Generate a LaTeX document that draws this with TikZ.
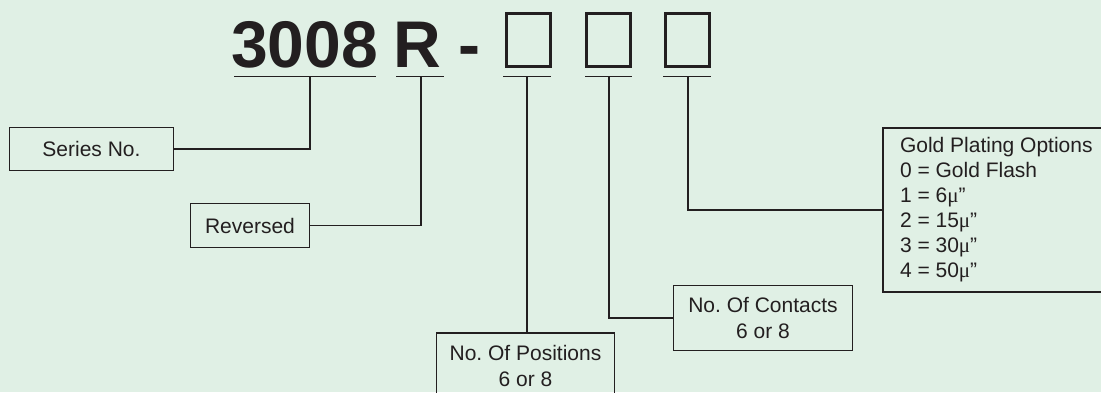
\documentclass[tikz,border=0pt]{standalone}
\usepackage{fontspec}
\setmainfont{Liberation Sans}
\newfontfamily\mufont{Liberation Serif}
\usepackage{tikz}
\usetikzlibrary{positioning}
\definecolor{BgColor}{RGB}{224,240,229}
\definecolor{InkColor}{RGB}{35,31,32}
\newcommand{\micro}{{\mufont μ}”}
\frenchspacing

\begin{document}
\begin{tikzpicture}[x=0.5pt,y=-0.5pt,line width=0.6pt,color=InkColor,
  every node/.style={align=center,font=\fontsize{10.5}{13}\selectfont,inner sep=0pt},
  lbl/.style={draw,line width=0.65pt},
  code/.style={font=\fontsize{33}{40}\selectfont\bfseries,anchor=base},
  slot/.style={draw,line width=1.5pt,minimum width=22pt,minimum height=26.5pt}]
\useasboundingbox[fill=BgColor] (0,0) rectangle (1101,392);
\clip (0,0) rectangle (1101,392);
% part number
\node[code] (tser) at (304.5,67) {3008};
\node[code] (trev) at (417.5,67) {R};
\node[code] (tdash) at (469,67) {-};
\foreach \x/\n in {528.5/s1,608/s2,687.5/s3} \node[slot] (\n) at (\x,40) {};
\foreach \a/\b in {234/376,396/444,503/551,585/632,663/711}
  \draw[line width=0.7pt] (\a,76.5) -- (\b,76.5);
\foreach \x/\n in {310/k1,421/k2,527/k3,609/k4,688/k5} \coordinate (\n) at (\x,76.5);
% labels
\node[lbl,minimum width=82pt,minimum height=21.5pt] (ser) at (91.5,149) {Series No.};
\node[lbl,minimum width=59.5pt,minimum height=22pt] (rev) at (250,225.5) {Reversed};
\node[lbl,minimum width=89pt,minimum height=33pt] (pos) at (525.5,366) {No. Of Positions\\6 or 8};
\node[lbl,minimum width=89.5pt,minimum height=32.5pt] (con) at (763,318) {No. Of Contacts\\6 or 8};
\node[lbl,align=flush left,text width=104pt,inner xsep=8.5pt,minimum height=82pt,
  font=\fontsize{10.5}{12.5}\selectfont] (gold) at (1004,210)
  {Gold Plating Options\\0 = Gold Flash\\1 = 6\micro\\2 = 15\micro\\3 = 30\micro\\4 = 50\micro};
\draw (ser.east) -| (k1);
\draw (rev.east) -| (k2);
\draw (k3) -- (k3 |- pos.north);
\draw (con.west) -| (k4);
\draw (gold.west) -| (k5);
\end{tikzpicture}
\end{document}
